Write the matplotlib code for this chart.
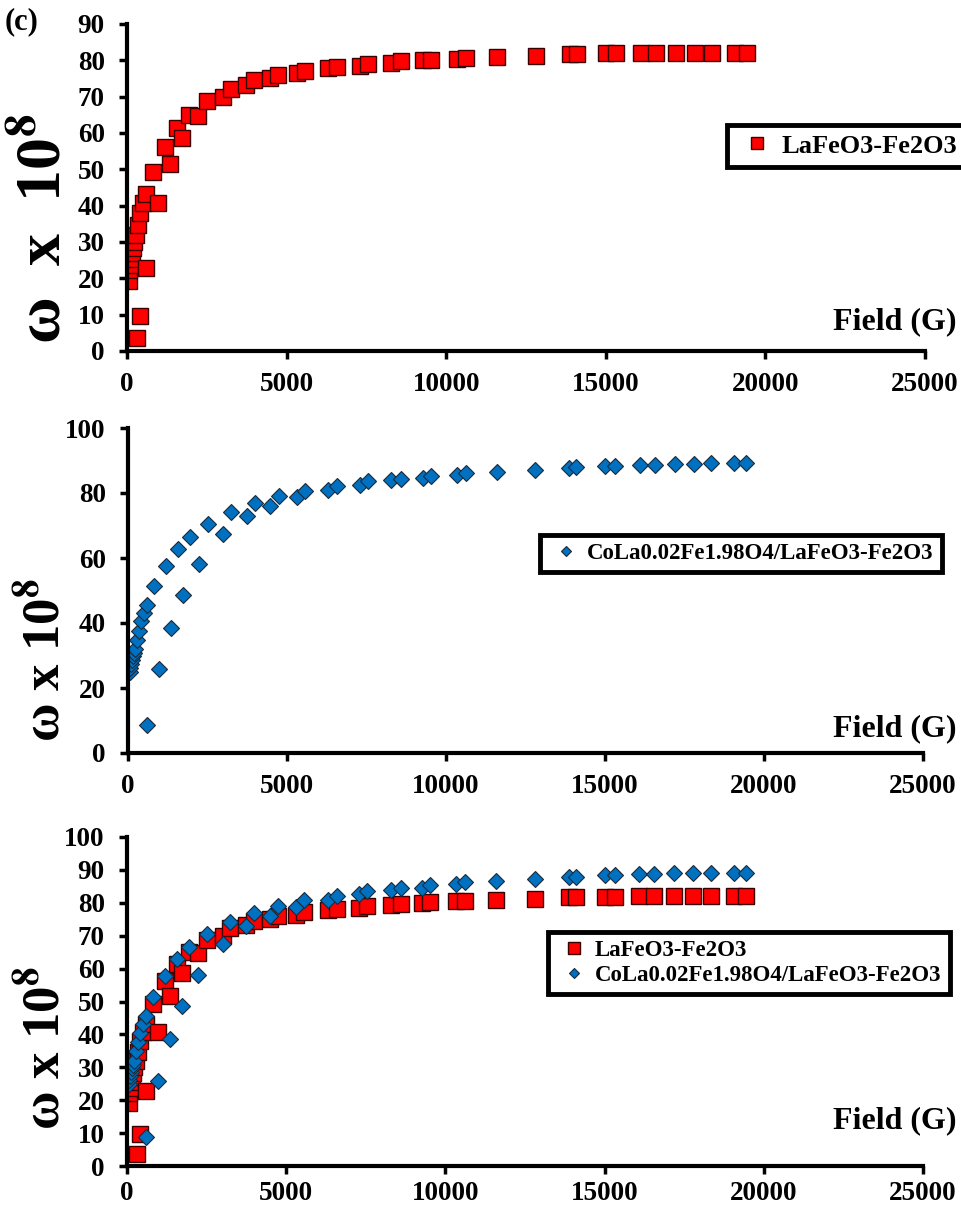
import matplotlib
matplotlib.use("Agg")
import matplotlib.pyplot as plt

# field values (G) and omega x 1e8
lfo_field = [50, 72, 103, 134, 156, 187, 228, 281, 312, 344, 396, 416, 488, 594, 603,
             822, 968, 1197, 1343, 1562, 1718, 1957, 2238, 2500, 3000,
             3250, 3728, 3978, 4478, 4737, 5312, 5572,
             6300, 6581, 7290, 7550, 8281, 8594, 9270, 9531, 10344, 10625,
             11594, 12813, 13875, 14094, 15000, 15313, 16094, 16563, 17188, 17790,
             18333, 19063, 19427]
lfo_omega = [19.2, 22.2, 23.8, 25.4, 26.9, 28.4, 30.1, 32.0, 3.7, 34.8, 9.7, 37.9, 40.7, 43.2, 22.9,
             49.3, 40.7, 56.2, 51.6, 61.3, 58.7, 65.0, 64.6, 68.7, 69.9,
             72.2, 73.2, 74.5, 75.2, 75.9, 76.4, 77.2,
             77.9, 78.2, 78.5, 79.0, 79.4, 79.7, 80.0, 80.2, 80.5, 80.6,
             80.8, 81.3, 81.7, 81.7, 81.9, 81.9, 82.0, 82.0, 82.1, 82.1,
             82.1, 82.0, 82.0]

cfo_field = [50, 72, 103, 134, 156, 187, 228, 281, 344, 416, 488, 594, 603,
             822, 968, 1197, 1343, 1562, 1718, 1957, 2238, 2500, 3000,
             3250, 3728, 3978, 4478, 4737, 5312, 5572,
             6300, 6581, 7290, 7550, 8281, 8594, 9270, 9531, 10344, 10625,
             11594, 12813, 13875, 14094, 15000, 15313, 16094, 16563, 17188, 17790,
             18333, 19063, 19427]
cfo_omega = [24.8, 26.2, 27.5, 28.7, 29.7, 30.8, 32.0, 34.9, 37.6, 40.5, 43.1, 45.6, 8.7,
             51.3, 25.8, 57.6, 38.5, 62.8, 48.5, 66.5, 58.2, 70.5, 67.4,
             74.2, 72.8, 76.9, 76.1, 79.0, 78.8, 80.7,
             80.8, 82.0, 82.6, 83.6, 83.9, 84.4, 84.6, 85.3, 85.6, 86.3,
             86.6, 87.2, 87.7, 87.9, 88.4, 88.4, 88.7, 88.7, 89.0, 89.0,
             89.2, 89.1, 89.1]

lfo_name = "LaFeO3-Fe2O3"
cfo_name = "CoLa0.02Fe1.98O4/LaFeO3-Fe2O3"
x_ticks = [0, 5000, 10000, 15000, 20000, 25000]

plt.rcParams["font.family"] = ["Liberation Serif", "DejaVu Serif"]
plt.rcParams["font.weight"] = "bold"
plt.rcParams["mathtext.fontset"] = "stix"

RED = "#FF0000"
BLUE = "#0070C0"
W, H = 962, 1208


def fx(px):
    return px / W


def fy(py):
    return 1 - py / H


def style_axes(ax, ymax, ystep, xpad=9):
    ax.set_xlim(0, 25000)
    ax.set_ylim(0, ymax)
    ax.set_xticks(x_ticks)
    ax.set_yticks(range(0, ymax + 1, ystep))
    for s in ["top", "right"]:
        ax.spines[s].set_visible(False)
    for s in ["left", "bottom"]:
        ax.spines[s].set_linewidth(3)
    ax.tick_params(axis="both", direction="out", length=6, width=2.5, labelsize=19.5)
    ax.tick_params(axis="x", pad=xpad)
    ax.tick_params(axis="y", pad=10)
    for lab in ax.get_xticklabels() + ax.get_yticklabels():
        lab.set_fontweight("bold")


def red_pts(ax, name):
    return ax.plot(lfo_field, lfo_omega, ls="none", marker="s", ms=11.5,
                   mfc=RED, mec="#3a0000", mew=1.0, label=name)[0]


def blue_pts(ax, name):
    return ax.plot(cfo_field, cfo_omega, ls="none", marker="D", ms=8,
                   mfc=BLUE, mec="#1a2a3a", mew=0.8, label=name)[0]


def add_legend(ax, handles, x, y, size):
    leg = ax.legend(handles=handles, loc="upper left", bbox_to_anchor=(fx(x), fy(y)),
                    bbox_transform=fig.transFigure, frameon=True, fancybox=False,
                    edgecolor="black", framealpha=1, borderaxespad=0,
                    prop={"weight": "bold", "size": size}, handlelength=1.6,
                    handletextpad=0.1, borderpad=0.35, labelspacing=0.15, markerscale=0.7)
    leg.get_frame().set_linewidth(3.5)
    return leg


fig = plt.figure(figsize=(W / 100, H / 100), dpi=100)

ax1 = fig.add_axes([fx(127), fy(351), fx(925 - 127), (351 - 24) / H])
ax2 = fig.add_axes([fx(128), fy(753), fx(923 - 128), (753 - 428) / H])
ax3 = fig.add_axes([fx(127), fy(1166), fx(923 - 127), (1166 - 837) / H])

h1 = red_pts(ax1, lfo_name)
style_axes(ax1, 90, 10)
add_legend(ax1, [h1], 727, 125, 19)

h2 = blue_pts(ax2, cfo_name)
style_axes(ax2, 100, 20)
add_legend(ax2, [h2], 540, 535, 16.5)

h3a = red_pts(ax3, lfo_name)
h3b = blue_pts(ax3, cfo_name)
style_axes(ax3, 100, 10, xpad=5)
add_legend(ax3, [h3a, h3b], 548, 932, 16.5)

fig.text(fx(45), fy(229), "ω  x  10$^{\\mathbf{8}}$", rotation=90, ha="center", va="center",
         fontsize=46, fontweight="bold")
fig.text(fx(45), fy(660), "ω x 10$^{\\mathbf{8}}$", rotation=90, ha="center", va="center",
         fontsize=38, fontweight="bold")
fig.text(fx(45), fy(1048), "ω x 10$^{\\mathbf{8}}$", rotation=90, ha="center", va="center",
         fontsize=38, fontweight="bold")

for yc in [322, 729, 1121]:
    fig.text(fx(957), fy(yc), "Field (G)", ha="right", va="center", fontsize=23, fontweight="bold")

fig.text(fx(5), fy(22), "(c)", ha="left", va="center", fontsize=22, fontweight="bold")

fig.savefig("out.png", dpi=100)
